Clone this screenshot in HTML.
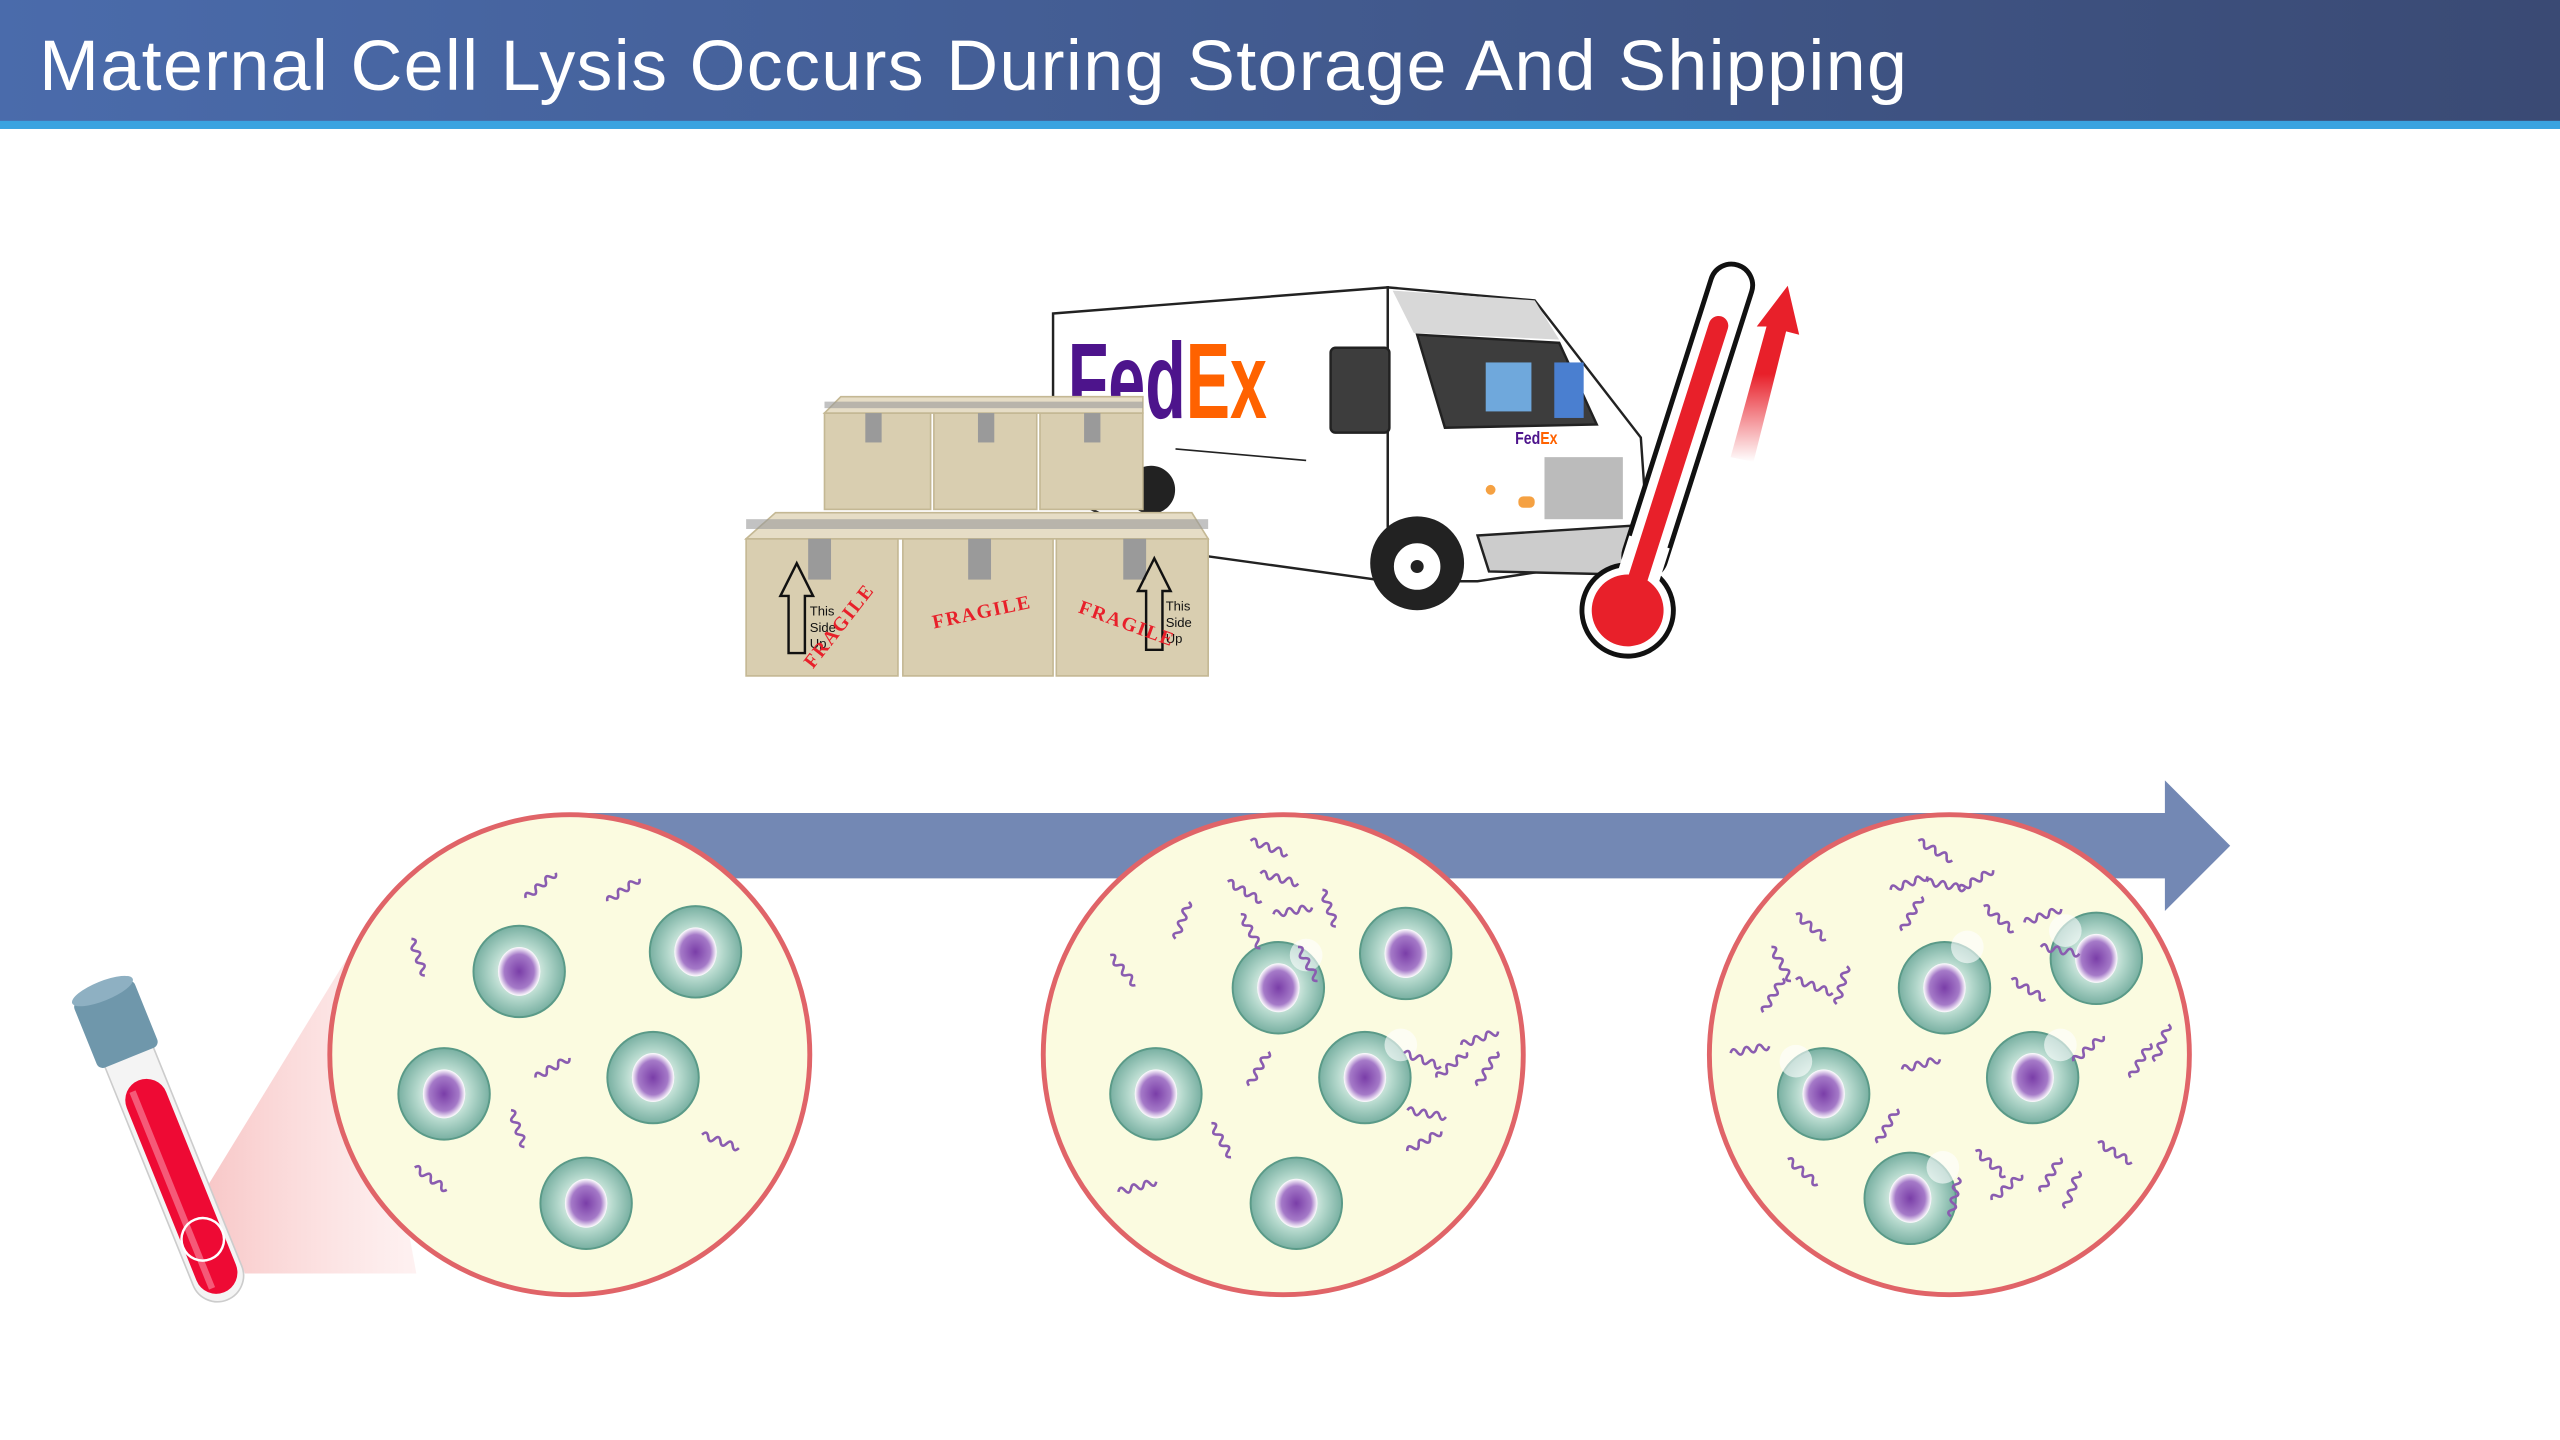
<!DOCTYPE html>
<html><head><meta charset="utf-8"><style>html,body{margin:0;padding:0;background:#fff}svg{display:block}</style></head>
<body>
<svg width="2560" height="1440" viewBox="0 0 1568 882" preserveAspectRatio="none" xmlns="http://www.w3.org/2000/svg">
<defs>
<linearGradient id="hdr" x1="0" x2="1"><stop offset="0" stop-color="#4a6bab"/><stop offset="1" stop-color="#3a4a74"/></linearGradient>
<radialGradient id="cell"><stop offset="0.3" stop-color="#e8f4ee"/><stop offset="0.6" stop-color="#b4d8cc"/><stop offset="1" stop-color="#79b0a2"/></radialGradient>
<radialGradient id="nuc"><stop offset="0" stop-color="#7a3ea8"/><stop offset="0.7" stop-color="#a57ac8"/><stop offset="1" stop-color="#fff"/></radialGradient>
<linearGradient id="cone" x1="0" x2="1"><stop offset="0" stop-color="#f8c8c8"/><stop offset="1" stop-color="#fde8e8" stop-opacity="0.6"/></linearGradient>
<linearGradient id="rarrow" x1="0" y1="1" x2="0" y2="0"><stop offset="0" stop-color="#e8202a" stop-opacity="0"/><stop offset="0.5" stop-color="#e8202a"/></linearGradient>
<symbol id="sq" overflow="visible"><path d="M0 0 q2 -4 4 0 t4 0 t4 0 t4 0 t4 0 t4 0" fill="none" stroke="#8a5cb0" stroke-width="1.6"/></symbol>
<g id="c"><circle r="28" fill="url(#cell)" stroke="#5a9a88" stroke-width="1.2"/><ellipse rx="13" ry="15" fill="url(#nuc)"/></g>
</defs>
<rect x="0" y="0" width="1568" height="75" fill="url(#hdr)"/>
<rect x="0" y="74" width="1568" height="5" fill="#3aa3e0"/>
<text x="24" y="55" font-family="Liberation Sans, sans-serif" font-size="44" fill="#fff" textLength="1144">Maternal Cell Lysis Occurs During Storage And Shipping</text>

<polygon points="360,498 1326,498 1326,478 1366,518 1326,558 1326,538 360,538" fill="#7388b4"/>

<polygon points="128,725 218,578 255,780 150,780" fill="url(#cone)"/>

<g fill="#fbfbe0" stroke="#e06468" stroke-width="3">
<circle cx="349" cy="646" r="147"/><circle cx="786" cy="646" r="147"/><circle cx="1194" cy="646" r="147"/>
</g>
<use href="#c" x="318" y="595"/><use href="#c" x="426" y="583"/><use href="#c" x="272" y="670"/><use href="#c" x="400" y="660"/><use href="#c" x="359" y="737"/>
<use href="#c" x="783" y="605"/><use href="#c" x="861" y="584"/><use href="#c" x="708" y="670"/><use href="#c" x="836" y="660"/><use href="#c" x="794" y="737"/>
<use href="#c" x="1191" y="605"/><use href="#c" x="1284" y="587"/><use href="#c" x="1117" y="670"/><use href="#c" x="1245" y="660"/><use href="#c" x="1170" y="734"/>
<g fill="#fff" opacity="0.6"><circle cx="800" cy="585" r="10"/><circle cx="858" cy="640" r="10"/><circle cx="1205" cy="580" r="10"/><circle cx="1265" cy="570" r="10"/><circle cx="1100" cy="650" r="10"/><circle cx="1190" cy="715" r="10"/><circle cx="1262" cy="640" r="10"/></g>

<use href="#sq" transform="translate(322,550) rotate(-40)"/><use href="#sq" transform="translate(372,552) rotate(-35)"/>
<use href="#sq" transform="translate(252,575) rotate(70)"/><use href="#sq" transform="translate(328,660) rotate(-30)"/>
<use href="#sq" transform="translate(313,680) rotate(70)"/><use href="#sq" transform="translate(430,695) rotate(20)"/>
<use href="#sq" transform="translate(254,715) rotate(35)"/>
<g>
<use href="#sq" transform="translate(766,515) rotate(20)"/><use href="#sq" transform="translate(752,540) rotate(30)"/><use href="#sq" transform="translate(772,535) rotate(15)"/>
<use href="#sq" transform="translate(760,560) rotate(60)"/><use href="#sq" transform="translate(780,560) rotate(-10)"/><use href="#sq" transform="translate(810,545) rotate(70)"/>
<use href="#sq" transform="translate(720,575) rotate(-70)"/><use href="#sq" transform="translate(680,585) rotate(50)"/><use href="#sq" transform="translate(795,580) rotate(60)"/>
<use href="#sq" transform="translate(765,665) rotate(-60)"/><use href="#sq" transform="translate(742,688) rotate(60)"/><use href="#sq" transform="translate(685,730) rotate(-15)"/>
<use href="#sq" transform="translate(862,705) rotate(-30)"/><use href="#sq" transform="translate(860,645) rotate(20)"/><use href="#sq" transform="translate(880,660) rotate(-40)"/>
<use href="#sq" transform="translate(895,640) rotate(-20)"/><use href="#sq" transform="translate(905,665) rotate(-60)"/><use href="#sq" transform="translate(862,680) rotate(10)"/>
</g>
<g>
<use href="#sq" transform="translate(1175,515) rotate(30)"/><use href="#sq" transform="translate(1158,545) rotate(-20)"/><use href="#sq" transform="translate(1180,540) rotate(10)"/>
<use href="#sq" transform="translate(1200,545) rotate(-30)"/><use href="#sq" transform="translate(1215,555) rotate(40)"/><use href="#sq" transform="translate(1165,570) rotate(-60)"/>
<use href="#sq" transform="translate(1100,560) rotate(40)"/><use href="#sq" transform="translate(1085,580) rotate(60)"/><use href="#sq" transform="translate(1100,600) rotate(20)"/>
<use href="#sq" transform="translate(1125,615) rotate(-75)"/><use href="#sq" transform="translate(1080,620) rotate(-60)"/><use href="#sq" transform="translate(1060,645) rotate(-10)"/>
<use href="#sq" transform="translate(1240,565) rotate(-20)"/><use href="#sq" transform="translate(1250,580) rotate(10)"/><use href="#sq" transform="translate(1232,600) rotate(30)"/>
<use href="#sq" transform="translate(1165,655) rotate(-15)"/><use href="#sq" transform="translate(1270,650) rotate(-40)"/><use href="#sq" transform="translate(1305,660) rotate(-60)"/>
<use href="#sq" transform="translate(1320,650) rotate(-70)"/><use href="#sq" transform="translate(1285,700) rotate(30)"/><use href="#sq" transform="translate(1150,700) rotate(-60)"/>
<use href="#sq" transform="translate(1095,710) rotate(40)"/><use href="#sq" transform="translate(1210,705) rotate(40)"/><use href="#sq" transform="translate(1220,735) rotate(-40)"/>
<use href="#sq" transform="translate(1250,730) rotate(-60)"/><use href="#sq" transform="translate(1265,740) rotate(-70)"/><use href="#sq" transform="translate(1195,745) rotate(-80)"/>
</g>

<g transform="translate(68,620) rotate(-22)">
<rect x="-16" y="0" width="32" height="190" rx="16" fill="#f4f4f4" stroke="#ccc"/>
<rect x="-13" y="45" width="26" height="140" rx="13" fill="#ee0a34"/>
<rect x="-8" y="50" width="4" height="130" fill="#f55a78"/>
<ellipse cx="0" cy="150" rx="13" ry="13" fill="none" stroke="#fff" stroke-width="1.5"/>
<rect x="-20" y="-14" width="40" height="44" rx="4" fill="#6f97ab"/>
<ellipse cx="0" cy="-14" rx="20" ry="6" fill="#8eb0c2"/>
</g>

<g stroke="#222" stroke-width="1.5">
<polygon points="645,192 850,176 850,356 720,338 645,300" fill="#fff"/>
<polygon points="850,176 940,184 1005,268 1010,340 905,356 850,356" fill="#fff"/>
<polygon points="853,178 940,184 955,208 866,204" fill="#d8d8d8" stroke="none"/>
<polygon points="868,205 955,210 978,260 885,262" fill="#3d3d3d"/>
<rect x="910" y="222" width="28" height="30" fill="#6fa8dc" stroke="none"/>
<rect x="952" y="222" width="18" height="34" fill="#4a7fd0" stroke="none"/>
<rect x="815" y="213" width="36" height="52" rx="3" fill="#3d3d3d"/>
<rect x="946" y="280" width="48" height="38" fill="#bbb" stroke="none"/>
<polygon points="905,328 1000,322 1000,352 912,350" fill="#ccc"/>
<circle cx="868" cy="345" r="28" fill="#222"/>
<circle cx="868" cy="347" r="15" fill="#fff"/>
<circle cx="705" cy="300" r="14" fill="#222"/>
</g>
<circle cx="868" cy="347" r="4" fill="#222"/>
<g fill="#f5a142"><rect x="930" y="304" width="10" height="7" rx="3"/><circle cx="913" cy="300" r="3"/></g>
<line x1="720" y1="275" x2="800" y2="282" stroke="#222"/>
<text x="654" y="256" font-family="Liberation Sans, sans-serif" font-weight="bold" font-size="66" fill="#4d148c" textLength="122" lengthAdjust="spacingAndGlyphs">Fed<tspan fill="#ff6200">Ex</tspan></text>
<text x="928" y="272" font-family="Liberation Sans, sans-serif" font-weight="bold" font-size="11" fill="#4d148c" textLength="26" lengthAdjust="spacingAndGlyphs">Fed<tspan fill="#ff6200">Ex</tspan></text>

<g fill="#d9ceb0" stroke="#c4b894" stroke-width="1">
<rect x="505" y="253" width="65" height="59"/><rect x="572" y="253" width="63" height="59"/><rect x="637" y="253" width="63" height="59"/>
<polygon points="505,253 515,243 700,243 700,253" fill="#e6ddc6"/>
<rect x="457" y="330" width="93" height="84"/><rect x="553" y="330" width="92" height="84"/><rect x="647" y="330" width="93" height="84"/>
<polygon points="457,330 475,314 730,314 740,330" fill="#e6ddc6"/>
</g>
<g fill="#9a9a9a">
<rect x="530" y="253" width="10" height="18"/><rect x="599" y="253" width="10" height="18"/><rect x="664" y="253" width="10" height="18"/>
<rect x="495" y="330" width="14" height="25"/><rect x="593" y="330" width="14" height="25"/><rect x="688" y="330" width="14" height="25"/>
<rect x="457" y="318" width="283" height="6" opacity="0.6"/><rect x="505" y="246" width="195" height="4" opacity="0.6"/>
</g>
<g fill="none" stroke="#111" stroke-width="1.5">
<polygon points="488,345 478,365 483,365 483,400 493,400 493,365 498,365"/>
<polygon points="707,342 697,362 702,362 702,398 712,398 712,362 717,362"/>
</g>
<g font-family="Liberation Sans, sans-serif" font-size="8" fill="#111">
<text x="496" y="377">This</text><text x="496" y="387">Side</text><text x="496" y="397">Up</text>
<text x="714" y="374">This</text><text x="714" y="384">Side</text><text x="714" y="394">Up</text>
</g>
<g font-family="Liberation Serif, serif" font-weight="bold" font-size="12" fill="#e8202a" letter-spacing="1">
<text transform="translate(498,410) rotate(-52)">FRAGILE</text>
<text transform="translate(572,385) rotate(-12)">FRAGILE</text>
<text transform="translate(660,375) rotate(20)">FRAGILE</text>
</g>

<g transform="translate(1062,170) rotate(17.7)">
<rect x="-13" y="-8" width="26" height="200" rx="13" fill="#fff" stroke="#111" stroke-width="3"/>
<circle cx="0" cy="214" r="28" fill="#fff" stroke="#111" stroke-width="3"/>
<rect x="-13" y="170" width="26" height="30" fill="#fff"/>
<rect x="-6" y="25" width="12" height="185" rx="6" fill="#e8202a"/>
<circle cx="0" cy="214" r="22" fill="#e8202a"/>
</g>
<polygon points="1060,280 1082,200 1076,200 1095,175 1102,205 1094,203 1074,283" fill="url(#rarrow)"/>
</svg>
</body></html>
